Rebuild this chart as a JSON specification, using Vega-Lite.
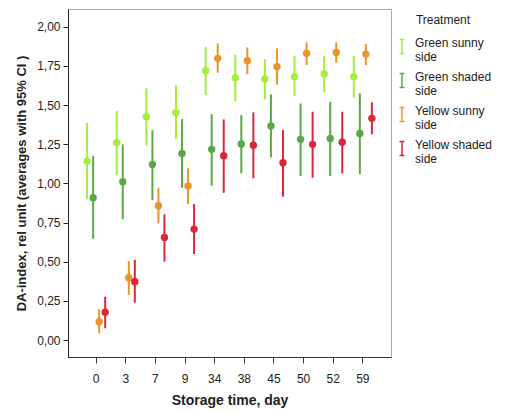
{
  "$schema": "https://vega.github.io/schema/vega-lite/v6.json",
  "autosize": {"type": "none"},
  "padding": {"left": 68, "top": 9, "right": 116, "bottom": 55},
  "width": 323,
  "height": 348,
  "background": "white",
  "data": {
    "values": [
      {"day": "0", "series": "Green sunny side", "mean": 1.142, "lo": 0.898, "hi": 1.387},
      {"day": "0", "series": "Green shaded side", "mean": 0.908, "lo": 0.645, "hi": 1.176},
      {"day": "0", "series": "Yellow sunny side", "mean": 0.117, "lo": 0.043, "hi": 0.196},
      {"day": "0", "series": "Yellow shaded side", "mean": 0.177, "lo": 0.075, "hi": 0.276},
      {"day": "3", "series": "Green sunny side", "mean": 1.259, "lo": 1.053, "hi": 1.461},
      {"day": "3", "series": "Green shaded side", "mean": 1.010, "lo": 0.772, "hi": 1.249},
      {"day": "3", "series": "Yellow sunny side", "mean": 0.398, "lo": 0.287, "hi": 0.504},
      {"day": "3", "series": "Yellow shaded side", "mean": 0.372, "lo": 0.238, "hi": 0.511},
      {"day": "7", "series": "Green sunny side", "mean": 1.425, "lo": 1.240, "hi": 1.606},
      {"day": "7", "series": "Green shaded side", "mean": 1.121, "lo": 0.893, "hi": 1.340},
      {"day": "7", "series": "Yellow sunny side", "mean": 0.857, "lo": 0.745, "hi": 0.972},
      {"day": "7", "series": "Yellow shaded side", "mean": 0.655, "lo": 0.500, "hi": 0.802},
      {"day": "9", "series": "Green sunny side", "mean": 1.453, "lo": 1.283, "hi": 1.627},
      {"day": "9", "series": "Green shaded side", "mean": 1.191, "lo": 0.972, "hi": 1.410},
      {"day": "9", "series": "Yellow sunny side", "mean": 0.983, "lo": 0.868, "hi": 1.096},
      {"day": "9", "series": "Yellow shaded side", "mean": 0.708, "lo": 0.549, "hi": 0.868},
      {"day": "34", "series": "Green sunny side", "mean": 1.719, "lo": 1.564, "hi": 1.872},
      {"day": "34", "series": "Green shaded side", "mean": 1.217, "lo": 0.985, "hi": 1.442},
      {"day": "34", "series": "Yellow sunny side", "mean": 1.798, "lo": 1.706, "hi": 1.893},
      {"day": "34", "series": "Yellow shaded side", "mean": 1.176, "lo": 0.940, "hi": 1.408},
      {"day": "38", "series": "Green sunny side", "mean": 1.674, "lo": 1.525, "hi": 1.823},
      {"day": "38", "series": "Green shaded side", "mean": 1.251, "lo": 1.064, "hi": 1.436},
      {"day": "38", "series": "Yellow sunny side", "mean": 1.783, "lo": 1.698, "hi": 1.868},
      {"day": "38", "series": "Yellow shaded side", "mean": 1.244, "lo": 1.032, "hi": 1.453},
      {"day": "45", "series": "Green sunny side", "mean": 1.666, "lo": 1.536, "hi": 1.793},
      {"day": "45", "series": "Green shaded side", "mean": 1.366, "lo": 1.166, "hi": 1.568},
      {"day": "45", "series": "Yellow sunny side", "mean": 1.744, "lo": 1.631, "hi": 1.862},
      {"day": "45", "series": "Yellow shaded side", "mean": 1.131, "lo": 0.915, "hi": 1.340},
      {"day": "50", "series": "Green sunny side", "mean": 1.680, "lo": 1.559, "hi": 1.812},
      {"day": "50", "series": "Green shaded side", "mean": 1.281, "lo": 1.047, "hi": 1.510},
      {"day": "50", "series": "Yellow sunny side", "mean": 1.830, "lo": 1.755, "hi": 1.900},
      {"day": "50", "series": "Yellow shaded side", "mean": 1.249, "lo": 1.036, "hi": 1.457},
      {"day": "52", "series": "Green sunny side", "mean": 1.698, "lo": 1.580, "hi": 1.814},
      {"day": "52", "series": "Green shaded side", "mean": 1.287, "lo": 1.047, "hi": 1.521},
      {"day": "52", "series": "Yellow sunny side", "mean": 1.836, "lo": 1.770, "hi": 1.900},
      {"day": "52", "series": "Yellow shaded side", "mean": 1.262, "lo": 1.064, "hi": 1.457},
      {"day": "59", "series": "Green sunny side", "mean": 1.680, "lo": 1.546, "hi": 1.814},
      {"day": "59", "series": "Green shaded side", "mean": 1.319, "lo": 1.059, "hi": 1.574},
      {"day": "59", "series": "Yellow sunny side", "mean": 1.825, "lo": 1.755, "hi": 1.889},
      {"day": "59", "series": "Yellow shaded side", "mean": 1.415, "lo": 1.313, "hi": 1.517}
    ]
  },
  "encoding": {
    "x": {
      "field": "day",
      "type": "ordinal",
      "scale": {"domain": ["0","3","7","9","34","38","45","50","52","59"], "paddingInner": 0, "paddingOuter": 0.45},
      "axis": {
        "title": "Storage time, day",
        "labelAngle": 0,
        "labelFontSize": 12,
        "labelColor": "#222",
        "labelPadding": 10,
        "tickSize": 6,
        "tickColor": "#333",
        "domainColor": "#333",
        "titleFontSize": 14,
        "titleFontWeight": "bold",
        "titleColor": "#222",
        "titlePadding": 9
      }
    },
    "xOffset": {
      "field": "series",
      "type": "nominal",
      "scale": {"domain": ["Green sunny side","Green shaded side","Yellow sunny side","Yellow shaded side"], "paddingOuter": 0.46}
    },
    "color": {
      "field": "series",
      "type": "nominal",
      "scale": {
        "domain": ["Green sunny side","Green shaded side","Yellow sunny side","Yellow shaded side"],
        "range": ["#a3ef3c","#5ba846","#e8962c","#d9283a"]
      },
      "legend": {
        "title": "Treatment",
        "orient": "none",
        "legendX": 326,
        "legendY": 6,
        "titleFontSize": 12,
        "titleFontWeight": "normal",
        "titleColor": "#222",
        "titleAnchor": "middle",
        "titlePadding": 8,
        "labelFontSize": 12,
        "labelColor": "#222",
        "labelExpr": "[replace(datum.label, ' side', ''), 'side']",
        "symbolType": "M-0.35,-0.5H0.35M0,-0.5V1.5M-0.35,1.5H0.35",
        "symbolSize": 196,
        "symbolStrokeWidth": 1.5,
        "rowPadding": 6,
        "labelOffset": 5
      }
    }
  },
  "layer": [
    {
      "mark": {"type": "rule", "strokeWidth": 2},
      "encoding": {
        "y": {
          "field": "lo",
          "type": "quantitative",
          "scale": {"domain": [-0.1085, 2.113], "nice": false, "zero": false},
          "axis": {
            "title": "DA-index, rel unit (averages with 95% CI )",
            "values": [0,0.25,0.5,0.75,1,1.25,1.5,1.75,2],
            "labelExpr": "replace(format(datum.value, '.2f'), '.', ',')",
            "labelFontSize": 12,
            "labelColor": "#222",
            "labelPadding": 3,
            "tickSize": 5,
            "tickColor": "#222",
            "domainColor": "#222",
            "grid": false,
            "titleFontSize": 13,
            "titleFontWeight": "bold",
            "titleColor": "#222",
            "titlePadding": 8
          }
        },
        "y2": {"field": "hi"}
      }
    },
    {
      "mark": {"type": "point", "filled": true, "size": 55, "opacity": 1},
      "encoding": {
        "y": {"field": "mean", "type": "quantitative"}
      }
    }
  ],
  "config": {
    "font": "Liberation Sans",
    "view": {"stroke": "#aaa", "strokeWidth": 1}
  }
}
